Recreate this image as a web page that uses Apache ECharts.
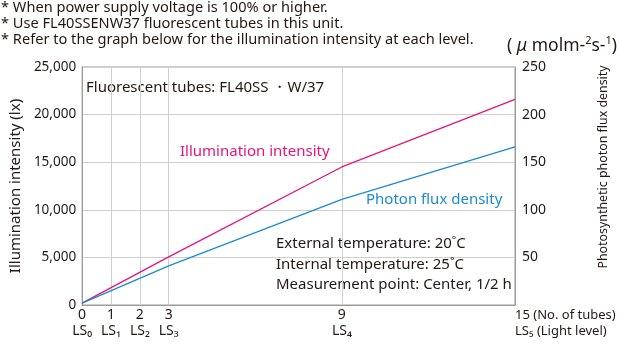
<!DOCTYPE html>
<html><head><meta charset="utf-8">
<script src="https://cdn.jsdelivr.net/npm/echarts@6/dist/echarts.min.js"></script>
<style>html,body{margin:0;padding:0;background:#fff}#c{width:619px;height:347px}</style>
</head><body><div id="c"></div>
<script>
// data
const tubes = [0, 3, 9, 15];
const illuminance = [200, 5050, 14500, 21600];   // lx
const photonFlux = [2, 41, 111, 166];            // umol m-2 s-1
const xLabelValues = [0, 1, 2, 3, 9];
const xLevelLabels = ['LS₀', 'LS₁', 'LS₂', 'LS₃', 'LS₄'];
const gridXValues = [1, 2, 3, 9];
const lastTick = 15;
const notes = [
  '* When power supply voltage is 100% or higher.',
  '* Use FL40SSENW37 fluorescent tubes in this unit.',
  '* Refer to the graph below for the illumination intensity at each level.'
];

const FONT = 'Noto Sans';
const MAG = '#e5147b';
const BLUE = '#1a8ad4';
const TXT = '#231815';

const chart = echarts.init(document.getElementById('c'), null, {renderer: 'canvas'});
const option = {
  animation: false,
  textStyle: {fontFamily: FONT},
  grid: {left: 73, right: 104, top: 67, bottom: 42, show: true, borderColor: '#9a9a9a', borderWidth: 1, containLabel: false},
  xAxis: {
    type: 'value', min: 0, max: 15, interval: 1,
    axisLine: {show: true, lineStyle: {color: '#9a9a9a', width: 1}},
    axisTick: {show: false},
    splitLine: {show: false},
    axisLabel: {
      customValues: xLabelValues,
      margin: 2,
      color: TXT,
      formatter: v => '{n|' + v + '}\n{s|' + xLevelLabels[xLabelValues.indexOf(v)] + '}',
      rich: {
        n: {fontSize: 14, lineHeight: 16, fontFamily: FONT, color: TXT},
        s: {fontSize: 14, lineHeight: 16, fontFamily: FONT, color: TXT}
      }
    }
  },
  yAxis: [{
    type: 'value', min: 0, max: 25000, interval: 5000,
    name: 'Illumination intensity (lx)', nameLocation: 'middle', nameGap: 55,
    nameTextStyle: {fontSize: 15, color: TXT, fontFamily: FONT},
    axisLine: {show: true, lineStyle: {color: '#9a9a9a'}},
    axisTick: {show: false},
    axisLabel: {color: TXT, fontSize: 13.5, margin: 6, fontFamily: FONT},
    splitLine: {show: true, lineStyle: {color: '#cfcfcf', width: 1}}
  }, {
    type: 'value', min: 0, max: 250, interval: 50, position: 'right',
    axisLine: {show: true, lineStyle: {color: '#9a9a9a'}},
    axisTick: {show: false},
    axisLabel: {color: TXT, fontSize: 14, margin: 7, fontFamily: FONT, formatter: v => v === 0 ? '' : String(v)},
    splitLine: {show: false}
  }],
  series: [{
    type: 'line', yAxisIndex: 0, symbol: 'none', z: 5,
    data: tubes.map((t, i) => [t, illuminance[i]]),
    lineStyle: {color: MAG, width: 1.3},
    markLine: {
      silent: true, symbol: 'none', label: {show: false},
      lineStyle: {color: '#cfcfcf', width: 1, type: 'solid'},
      data: gridXValues.map(v => ({xAxis: v}))
    }
  }, {
    type: 'line', yAxisIndex: 1, symbol: 'none', z: 5,
    data: tubes.map((t, i) => [t, photonFlux[i]]),
    lineStyle: {color: BLUE, width: 1.3}
  }]
};
chart.setOption(option);

const p15 = chart.convertToPixel({gridIndex: 0}, [lastTick, 0]);
const base = {fontFamily: FONT, fill: TXT};
const g = [];
notes.forEach((t, i) => g.push({type: 'text', x: 1, y: 8 + i * 16, style: Object.assign({text: t, fontSize: 14.6, verticalAlign: 'middle'}, base)}));
g.push({type: 'text', x: 617, y: 45, style: Object.assign({
  text: '{n|(}{i| μ}{n| molm-}{u|2}{n|s-}{u|1}{n|)}', verticalAlign: 'middle', align: 'right',
  rich: {
    n: {fontSize: 17.5, fontFamily: FONT, fill: TXT, verticalAlign: 'bottom', lineHeight: 20},
    i: {fontSize: 17.5, fontFamily: FONT, fill: TXT, fontStyle: 'italic', verticalAlign: 'bottom', lineHeight: 20},
    u: {fontSize: 11, fontFamily: FONT, fill: TXT, verticalAlign: 'top', lineHeight: 20}
  }}, base)});
g.push({type: 'text', x: 86, y: 88, style: Object.assign({text: 'Fluorescent tubes: FL40SS ・W/37', fontSize: 15, verticalAlign: 'middle'}, base)});
g.push({type: 'text', x: 180, y: 152, style: {text: 'Illumination intensity', fontSize: 15, fontFamily: FONT, fill: MAG, verticalAlign: 'middle'}});
g.push({type: 'text', x: 366, y: 200, style: {text: 'Photon flux density', fontSize: 15, fontFamily: FONT, fill: BLUE, verticalAlign: 'middle'}});
['External temperature: 20˚C', 'Internal temperature: 25˚C', 'Measurement point: Center, 1/2 h'].forEach((t, i) =>
  g.push({type: 'text', x: 276, y: 244 + i * 20.5, style: Object.assign({text: t, fontSize: 15, verticalAlign: 'middle'}, base)}));
g.push({type: 'text', x: p15[0], y: p15[1] + 2, style: Object.assign({text: '15 (No. of tubes)\nLS₅ (Light level)', fontSize: 13, lineHeight: 16}, base)});
g.push({type: 'text', x: 603, y: 167, rotation: Math.PI / 2, style: Object.assign({text: 'Photosynthetic photon flux density', fontSize: 12.4, align: 'center', verticalAlign: 'middle'}, base)});
chart.setOption({graphic: g});
</script></body></html>
